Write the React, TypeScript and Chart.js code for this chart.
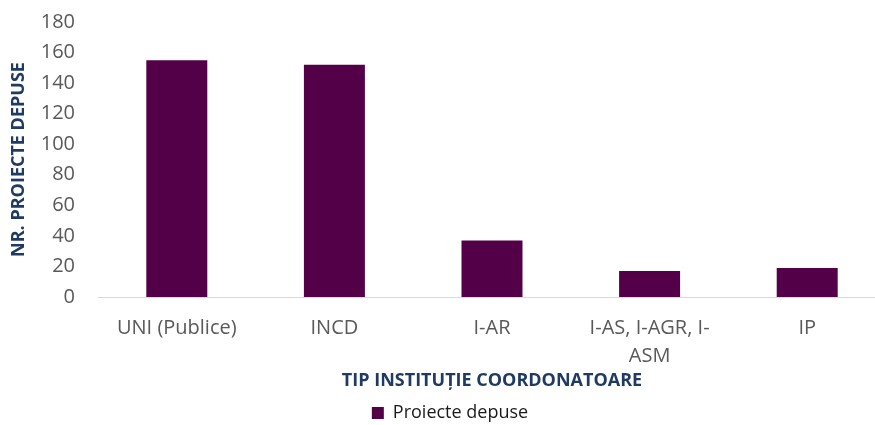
import React, { useEffect, useRef } from "react";
import { Chart, registerables } from "chart.js";

Chart.register(...registerables);

const categories: (string | string[])[] = [
  "UNI (Publice)",
  "INCD",
  "I-AR",
  ["I-AS, I-AGR, I-", "ASM"],
  "IP",
];
const seriesName = "Proiecte depuse";
const seriesValues = [155, 152, 37, 17, 19];
const yTitle = "NR. PROIECTE DEPUSE";
const xTitle = "TIP INSTITUȚIE COORDONATOARE";

const BAR = "#530048";
const TITLE_COLOR = "#1f3b63";
const FONT = "'Open Sans', sans-serif";

export default function App() {
  const ref = useRef<HTMLCanvasElement | null>(null);
  useEffect(() => {
    if (!ref.current) return;
    const chart = new Chart(ref.current, {
      type: "bar",
      data: {
        labels: categories,
        datasets: [
          {
            label: seriesName,
            data: seriesValues,
            backgroundColor: BAR,
            borderWidth: 0,
            categoryPercentage: 1,
            barPercentage: 0.387,
          },
        ],
      },
      options: {
        responsive: false,
        animation: false,
        layout: { padding: { top: 22, left: 14, right: 14, bottom: -7 } },
        plugins: {
          tooltip: { enabled: false },
          legend: {
            position: "bottom",
            labels: {
              boxWidth: 12,
              boxHeight: 12,
              padding: 0,
              color: "#1a1a1a",
              font: { family: FONT, size: 18 },
            },
          },
        },
        scales: {
          x: {
            grid: { display: false, drawTicks: false },
            border: { display: true, color: "#d9d9d9", width: 1 },
            ticks: {
              color: "#595959",
              font: { family: FONT, size: 20, lineHeight: 1.4 },
              padding: 17,
              maxRotation: 0,
              autoSkip: false,
            },
            title: {
              display: true,
              text: xTitle,
              color: TITLE_COLOR,
              font: { family: FONT, size: 18, weight: "bold" },
              padding: { top: 0, bottom: 12 },
            },
            afterFit: (scale: any) => {
              scale.height = 107;
            },
          },
          y: {
            min: 0,
            max: 180,
            grid: { display: false, drawTicks: true, tickLength: 23 },
            border: { display: false },
            ticks: {
              stepSize: 20,
              color: "#595959",
              font: { family: FONT, size: 20 },
              padding: 0,
            },
            title: {
              display: true,
              text: yTitle,
              color: TITLE_COLOR,
              font: { family: FONT, size: 18, weight: "bold", lineHeight: 0.5 },
              padding: { top: 0, bottom: 0 },
            },
            afterFit: (scale: any) => {
              scale.width = 84;
            },
          },
        },
      },
    });
    return () => chart.destroy();
  }, []);
  return (
    <div
      style={{
        position: "fixed",
        left: 0,
        top: 0,
        width: 875,
        height: 425,
        overflow: "hidden",
        background: "#fff",
      }}
    >
      <canvas
        ref={ref}
        width={900}
        height={425}
        style={{ display: "block", width: 900, height: 425 }}
      />
    </div>
  );
}
